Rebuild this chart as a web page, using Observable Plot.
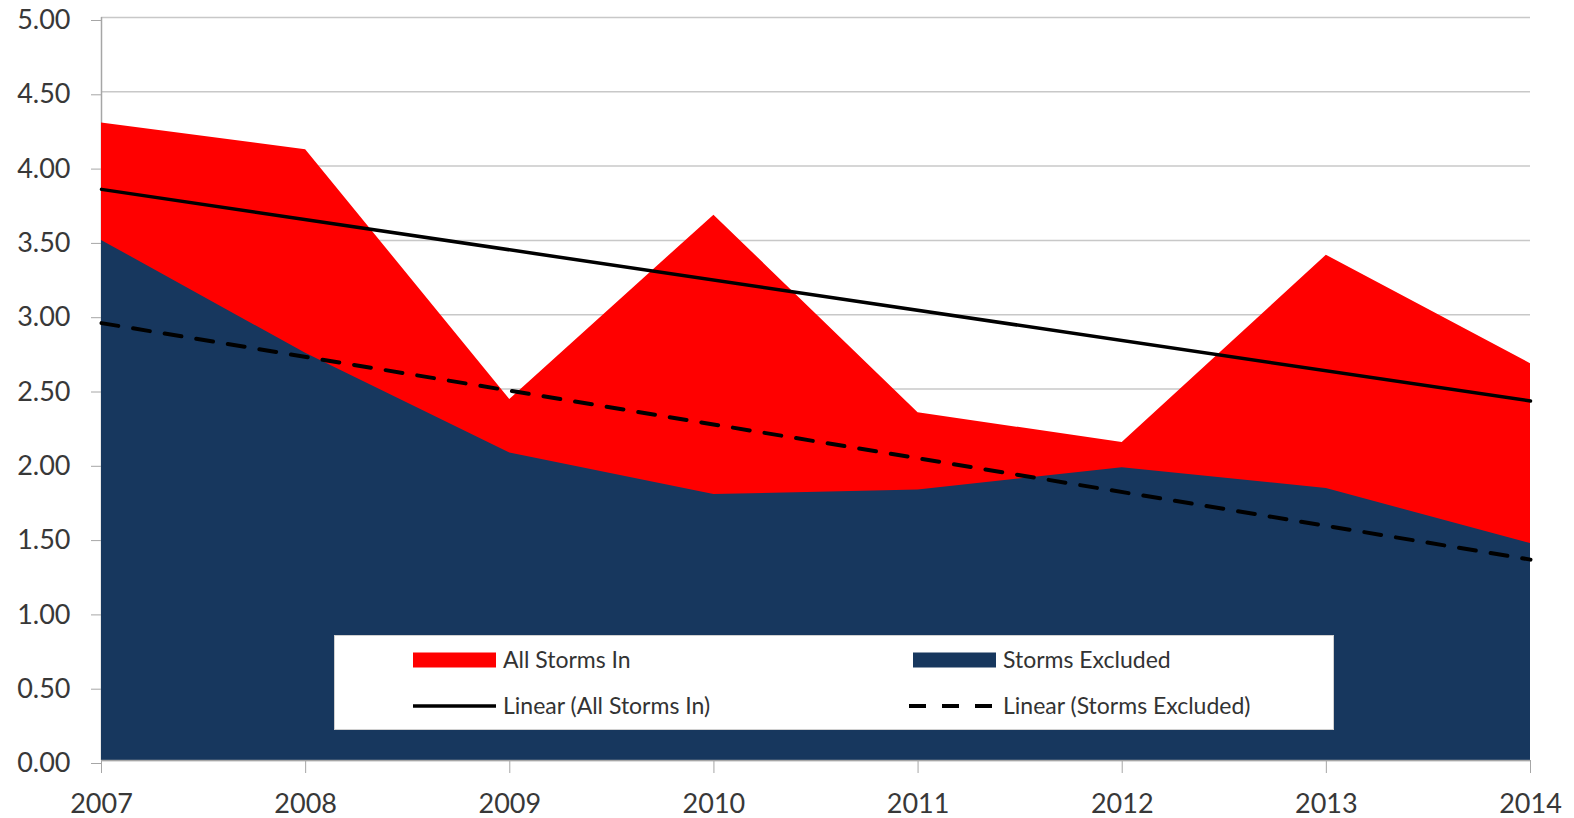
<!DOCTYPE html>
<html>
<head>
<meta charset="utf-8">
<script src="https://cdn.jsdelivr.net/npm/d3@7"></script>
<script src="https://cdn.jsdelivr.net/npm/@observablehq/plot@0.6"></script>
<style>
  html, body { margin: 0; padding: 0; background: #fff; }
  #wrap { position: relative; width: 1574px; height: 818px; }
  #wrap > svg { position: absolute; left: 0; top: 0; overflow: visible; }
  #legend { position: absolute; left: 334px; top: 635px; width: 998px; height: 93px;
    background: #fff; border: 1px solid #d0d0d0; }
  #legend svg { position: absolute; left: 0; top: 0; }
</style>
</head>
<body>
<div id="wrap"></div>
<script>
const years = [2007, 2008, 2009, 2010, 2011, 2012, 2013, 2014];
const allStormsIn = [4.29, 4.11, 2.43, 3.67, 2.34, 2.14, 3.40, 2.67];
const stormsExcluded = [3.50, 2.74, 2.07, 1.79, 1.82, 1.97, 1.83, 1.46];
const yTicks = [0, 0.5, 1, 1.5, 2, 2.5, 3, 3.5, 4, 4.5, 5];
const seriesNames = ["All Storms In", "Storms Excluded", "Linear (All Storms In)", "Linear (Storms Excluded)"];

const data = years.map((year, i) => ({year, all: allStormsIn[i], excl: stormsExcluded[i]}));

const chart = Plot.plot({
  width: 1574,
  height: 818,
  marginLeft: 101,
  marginRight: 44,
  marginTop: 17,
  marginBottom: 58,
  x: {domain: [2007, 2014]},
  y: {domain: [0, 5]},
  style: {fontFamily: "Lato, 'Open Sans', sans-serif", fontSize: "27px", color: "#383838", background: "white"},
  marks: [
    Plot.ruleY(yTicks, {stroke: "#c8c8c8", strokeWidth: 1.5}),
    Plot.ruleX([2007], {stroke: "#a6a6a6", strokeWidth: 1.5}),
    Plot.areaY(data, {x: "year", y: "all", fill: "#ff0000"}),
    Plot.areaY(data, {x: "year", y: "excl", fill: "#17375e"}),
    Plot.ruleY([0], {stroke: "#a6a6a6", strokeWidth: 1.5}),
    Plot.linearRegressionY(data, {x: "year", y: "all", stroke: "black", strokeWidth: 3.5, ci: 0}),
    Plot.linearRegressionY(data, {x: "year", y: "excl", stroke: "black", strokeWidth: 4, strokeDasharray: "17,15", ci: 0}),
    Plot.axisY({ticks: yTicks, tickFormat: d => d.toFixed(2), tickSize: 10, tickPadding: 21, dy: 3, stroke: "#a6a6a6", label: null}),
    Plot.axisX({ticks: years, tickFormat: d => String(d), tickSize: 13, tickPadding: 20, stroke: "#a6a6a6", label: null})
  ]
});
document.getElementById("wrap").appendChild(chart);

// Legend (positions relative to the legend box)
const legend = document.createElement("div");
legend.id = "legend";
const items = [
  {name: seriesNames[0], x: 78, cy: 24, kind: "fill", color: "#ff0000"},
  {name: seriesNames[1], x: 578, cy: 24, kind: "fill", color: "#17375e"},
  {name: seriesNames[2], x: 78, cy: 70, kind: "line"},
  {name: seriesNames[3], x: 574, cy: 70, kind: "dash"}
];
let s = `<svg width="998" height="93" font-family="Lato, 'Open Sans', sans-serif" font-size="23">`;
for (const it of items) {
  if (it.kind === "fill") {
    s += `<rect x="${it.x}" y="${it.cy - 7.5}" width="83" height="15" fill="${it.color}"/>`;
  } else if (it.kind === "line") {
    s += `<line x1="${it.x}" x2="${it.x + 83}" y1="${it.cy}" y2="${it.cy}" stroke="black" stroke-width="3.5"/>`;
  } else {
    s += `<line x1="${it.x}" x2="${it.x + 85}" y1="${it.cy}" y2="${it.cy}" stroke="black" stroke-width="4" stroke-dasharray="17,16"/>`;
  }
  const tx = (it.kind === "dash" ? it.x + 4 : it.x) + 90;
  s += `<text x="${tx}" y="${it.cy + 8}" fill="#333">${it.name}</text>`;
}
s += `</svg>`;
legend.innerHTML = s;
document.getElementById("wrap").appendChild(legend);
</script>
</body>
</html>
